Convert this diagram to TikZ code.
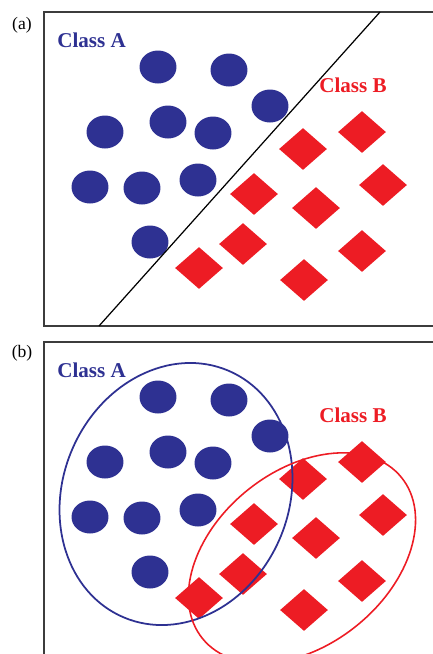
\documentclass[tikz,border=0pt]{standalone}
\usepackage{fontspec}
\setmainfont{Liberation Serif}
\usepackage{tikz}
\usetikzlibrary{shapes.geometric}
\definecolor{classBlue}{RGB}{46,49,146}
\definecolor{classRed}{RGB}{237,28,36}
\definecolor{frameGray}{RGB}{60,60,60}

\begin{document}
\begin{tikzpicture}[x=0.02cm, y=-0.02cm,
    dotA/.style={ellipse, fill=classBlue, inner sep=0pt, minimum width=0.74cm, minimum height=0.66cm},
    gemB/.style={diamond, fill=classRed, inner sep=0pt, minimum width=0.96cm, minimum height=0.84cm},
    tag/.style={font=\fontsize{10}{12}\selectfont},
    classname/.style={font=\fontsize{12}{14}\selectfont\bfseries, anchor=base west, inner sep=0pt}]
  \useasboundingbox (0,0) rectangle (433,654);
  \clip (0,0) rectangle (433,654);
  % Panel (a): linear boundary
  \node[tag] (taga) at (22,25) {(a)};
  \draw[frameGray, line width=1pt] (433,12) -- (44,12) -- (44,326) -- (433,326);
  \node[classname, classBlue] (nameAa) at (57,47) {Class A};
  \node[classname, classRed] (nameBa) at (319,92) {Class B};
  \node[dotA] (a1) at (158,67) {};
  \node[dotA] (a2) at (229,70) {};
  \node[dotA] (a3) at (270,106) {};
  \node[dotA] (a4) at (105,132) {};
  \node[dotA] (a5) at (168,122) {};
  \node[dotA] (a6) at (213,133) {};
  \node[dotA] (a7) at (90,187) {};
  \node[dotA] (a8) at (142,188) {};
  \node[dotA] (a9) at (198,180) {};
  \node[dotA] (a10) at (150,242) {};
  \node[gemB] (b1) at (362,132) {};
  \node[gemB] (b2) at (303,149) {};
  \node[gemB] (b3) at (383,185) {};
  \node[gemB] (b4) at (254,194) {};
  \node[gemB] (b5) at (316,208) {};
  \node[gemB] (b6) at (243,244) {};
  \node[gemB] (b7) at (362,251) {};
  \node[gemB] (b8) at (304,280) {};
  \node[gemB] (b9) at (199,268) {};
  \coordinate (sepbot) at (99,326);
  \coordinate (septop) at (380,12);
  \draw[line width=0.7pt] (sepbot) -- (septop);
  % Panel (b): enclosing ellipses
  \node[tag] (tagb) at (22,353) {(b)};
  \draw[frameGray, line width=1pt] (433,342) -- (44,342) -- (44,660);
  \node[classname, classBlue] (nameAb) at (57,377) {Class A};
  \node[classname, classRed] (nameBb) at (319,422) {Class B};
  \node[dotA] (c1) at (158,397) {};
  \node[dotA] (c2) at (229,400) {};
  \node[dotA] (c3) at (270,436) {};
  \node[dotA] (c4) at (105,462) {};
  \node[dotA] (c5) at (168,452) {};
  \node[dotA] (c6) at (213,463) {};
  \node[dotA] (c7) at (90,517) {};
  \node[dotA] (c8) at (142,518) {};
  \node[dotA] (c9) at (198,510) {};
  \node[dotA] (c10) at (150,572) {};
  \node[gemB] (d1) at (362,462) {};
  \node[gemB] (d2) at (303,479) {};
  \node[gemB] (d3) at (383,515) {};
  \node[gemB] (d4) at (254,524) {};
  \node[gemB] (d5) at (316,538) {};
  \node[gemB] (d6) at (243,574) {};
  \node[gemB] (d7) at (362,581) {};
  \node[gemB] (d8) at (304,610) {};
  \node[gemB] (d9) at (199,598) {};
  \draw[classBlue, line width=1pt, rotate around={-23:(176,494)}]
    (176,494) ellipse [x radius=113, y radius=134];
  \draw[classRed, line width=0.9pt, rotate around={39:(302,558)}]
    (302,558) ellipse [x radius=128, y radius=87];
\end{tikzpicture}
\end{document}
